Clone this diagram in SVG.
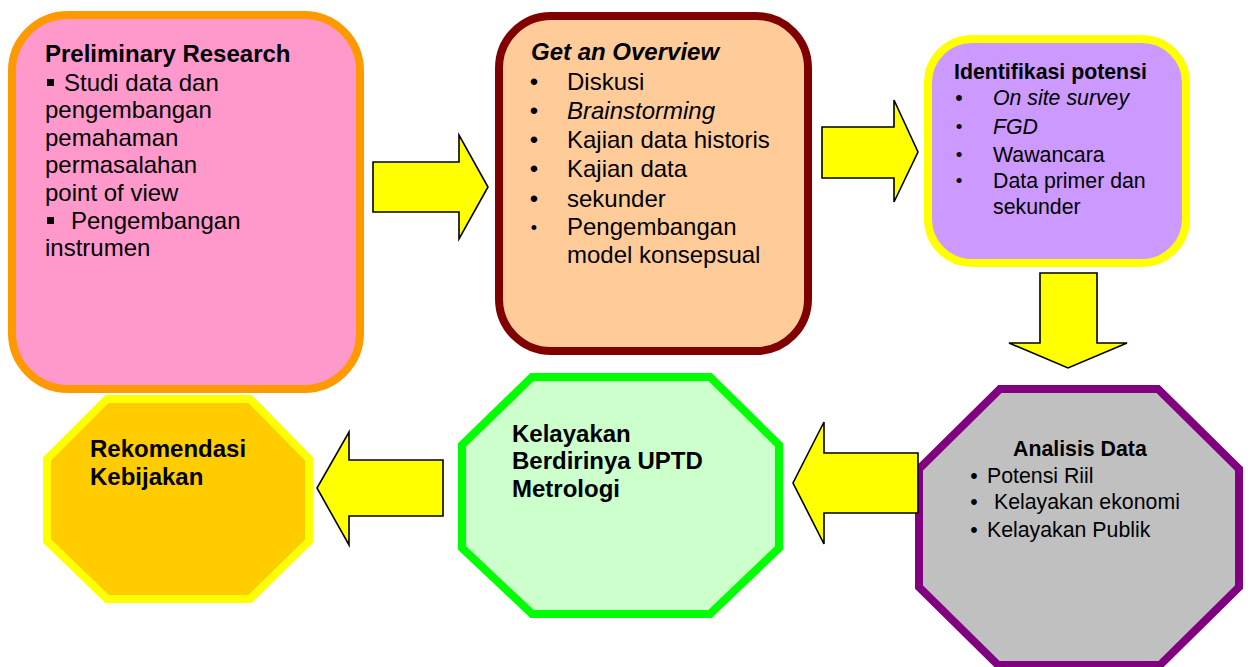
<svg xmlns="http://www.w3.org/2000/svg" width="1250" height="667" viewBox="0 0 1250 667">
<style>
text{font-family:"Liberation Sans",Arial,sans-serif;fill:#000}
.b{font-weight:bold}
.i{font-style:italic}
.t24{font-size:24px}
.t21{font-size:21.3px}
.arrow{fill:#FFFF00;stroke:#000;stroke-width:1.6;stroke-linejoin:miter}
.sq{fill:#000}
</style>
<rect width="1250" height="667" fill="#fff"/>
<g id="preliminary-research">
<rect x="12" y="15" width="348" height="374" rx="56" ry="56" fill="#FF99CC" stroke="#FF9900" stroke-width="8"/>
<text class="t24 b" x="45" y="62">Preliminary Research</text>
<rect class="sq" x="47" y="79" width="7" height="7"/>
<text class="t24" x="64" y="91">Studi data dan</text>
<text class="t24" x="45" y="118">pengembangan</text>
<text class="t24" x="45" y="146">pemahaman</text>
<text class="t24" x="45" y="173">permasalahan</text>
<text class="t24" x="45" y="201">point of view</text>
<rect class="sq" x="47" y="217" width="7" height="7"/>
<text class="t24" x="71" y="229">Pengembangan</text>
<text class="t24" x="45" y="256">instrumen</text>
</g>
<g id="get-an-overview">
<rect x="499" y="16" width="309" height="335" rx="52" ry="52" fill="#FFCC99" stroke="#800000" stroke-width="8"/>
<text class="t24 b i" x="531" y="60">Get an Overview</text>
<g class="t24" text-anchor="middle">
<text x="534" y="90">•</text>
<text x="534" y="119">•</text>
<text x="534" y="148">•</text>
<text x="534" y="177">•</text>
<text x="534" y="207">•</text>
<text x="534" y="234" style="font-size:18px">•</text>
</g>
<text class="t24" x="567" y="90">Diskusi</text>
<text class="t24 i" x="567" y="119">Brainstorming</text>
<text class="t24" x="567" y="148">Kajian data historis</text>
<text class="t24" x="567" y="177">Kajian data</text>
<text class="t24" x="567" y="207">sekunder</text>
<text class="t24" x="567" y="235">Pengembangan</text>
<text class="t24" x="567" y="263">model konsepsual</text>
</g>
<g id="identifikasi-potensi">
<rect x="928" y="39" width="258" height="224" rx="44" ry="44" fill="#CC99FF" stroke="#FFFF00" stroke-width="8"/>
<text class="t21 b" x="954" y="79">Identifikasi potensi</text>
<g class="t21" text-anchor="middle">
<text x="959" y="105">•</text>
<text x="959" y="133" style="font-size:19px">•</text>
<text x="959" y="161" style="font-size:19px">•</text>
<text x="959" y="187" style="font-size:19px">•</text>
</g>
<text class="t21 i" x="993" y="105">On site survey</text>
<text class="t21 i" x="993" y="134">FGD</text>
<text class="t21" x="993" y="162">Wawancara</text>
<text class="t21" x="993" y="188">Data primer dan</text>
<text class="t21" x="993" y="214">sekunder</text>
</g>
<g id="analisis-data">
<polygon points="1000,389 1158,389 1239,469 1239,587 1160,665 998,665 919,587 919,469" fill="#C0C0C0" stroke="#800080" stroke-width="8"/>
<text class="t21 b" x="1013" y="456">Analisis Data</text>
<g class="t21" text-anchor="middle">
<text x="974" y="483">•</text>
<text x="974" y="509">•</text>
<text x="974" y="537">•</text>
</g>
<text class="t21" x="987" y="483">Potensi Riil</text>
<text class="t21" x="994" y="509">Kelayakan ekonomi</text>
<text class="t21" x="987" y="537">Kelayakan Publik</text>
</g>
<g id="kelayakan-uptd">
<polygon points="532,377 710,377 779,445 779,548 710,614 532,614 462,548 462,445" fill="#CCFFCC" stroke="#00FF00" stroke-width="8"/>
<text class="t24 b" x="512" y="442">Kelayakan</text>
<text class="t24 b" x="512" y="469">Berdirinya UPTD</text>
<text class="t24 b" x="512" y="497">Metrologi</text>
</g>
<g id="rekomendasi-kebijakan">
<polygon points="107,399 250,399 309,459 309,541 250,599 107,599 47,541 47,459" fill="#FFCC00" stroke="#FFFF00" stroke-width="8"/>
<text class="t24 b" x="90" y="457">Rekomendasi</text>
<text class="t24 b" x="90" y="485">Kebijakan</text>
</g>
<g id="connectors">
<polygon class="arrow" points="373,162 459,162 459,135 488,187 459,239 459,212 373,212"/>
<polygon class="arrow" points="822,127 894,127 894,100 918,152 894,202 894,178 822,178"/>
<polygon class="arrow" points="1040,273 1097,273 1097,343 1127,343 1068,368 1009,343 1040,343"/>
<polygon class="arrow" points="918,453 824,453 824,422 793,483 824,544 824,513 918,513"/>
<polygon class="arrow" points="443,460 349,460 349,432 317,488 349,545 349,516 443,516"/>
</g>
</svg>
